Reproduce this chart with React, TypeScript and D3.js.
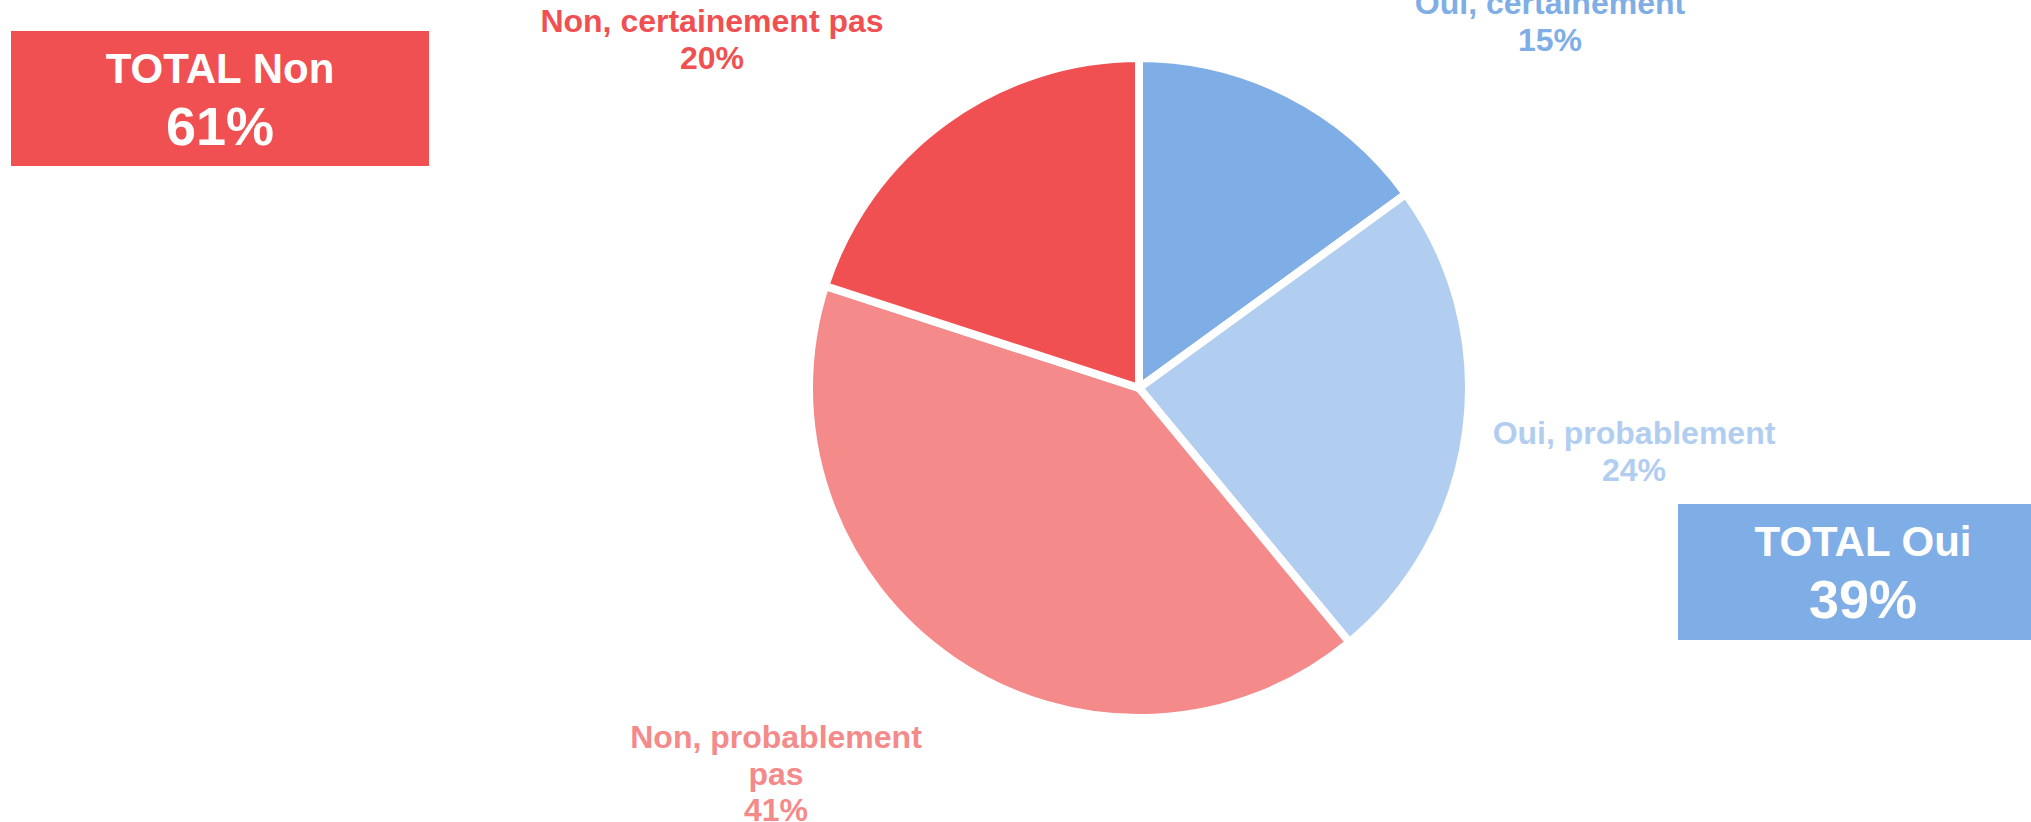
import { useMemo } from 'react'
import * as d3 from 'd3'

const categories = ['Oui, certainement', 'Oui, probablement', 'Non, probablement pas', 'Non, certainement pas']
const values = [15, 24, 41, 20]
const colors = ['#7faee6', '#b1cef1', '#f48a89', '#f05051']

// how each label is broken into lines (last line is the percent)
const labelLines = [['Oui, certainement'], ['Oui, probablement'], ['Non, probablement', 'pas'], ['Non, certainement pas']]
// label anchors (centre x, first baseline y), placed like the original "best fit"
const labelAnchors = [
  { x: 1550, y: 14 },
  { x: 1634, y: 444 },
  { x: 776, y: 748 },
  { x: 712, y: 32 },
]

const totals = [
  { title: 'TOTAL Non', value: 61, color: '#f05051', x: 11, y: 31, w: 418, h: 135, tx: 220 },
  { title: 'TOTAL Oui', value: 39, color: '#7faee6', x: 1678, y: 504, w: 353, h: 136, tx: 1863 },
]

const W = 2031
const H = 822
const cx = 1139
const cy = 388
const radius = 330
const font = '"Liberation Sans", Arial, sans-serif'

export default function App() {
  const arcs = useMemo(() => {
    const pie = d3.pie<number>().sort(null).value(d => d)
    return pie(values)
  }, [])
  const arc = d3.arc<d3.PieArcDatum<number>>().innerRadius(0).outerRadius(radius)

  return (
    <svg width={W} height={H} style={{ position: 'absolute', left: 0, top: 0, background: '#fff' }} fontFamily={font}>
      <g transform={`translate(${cx},${cy})`}>
        {arcs.map((a, i) => (
          <path key={categories[i]} d={arc(a) ?? ''} fill={colors[i]} stroke="#fff" strokeWidth={8} strokeLinejoin="miter" />
        ))}
      </g>

      {labelAnchors.map((p, i) => {
        const lines = [...labelLines[i], `${values[i]}%`]
        return (
          <text key={i} x={p.x} y={p.y} textAnchor="middle" fontWeight="bold" fontSize={32} fill={colors[i]}>
            {lines.map((l, j) => (
              <tspan key={j} x={p.x} dy={j === 0 ? 0 : 36.5}>{l}</tspan>
            ))}
          </text>
        )
      })}

      {totals.map(t => (
        <g key={t.title}>
          <rect x={t.x} y={t.y} width={t.w} height={t.h} fill={t.color} />
          <text x={t.tx} y={t.y + 52} textAnchor="middle" fill="#fff" fontWeight="bold" fontSize={42}>
            {t.title}
          </text>
          <text x={t.tx} y={t.y + 114} textAnchor="middle" fill="#fff" fontWeight="bold" fontSize={54}>
            {t.value}%
          </text>
        </g>
      ))}
    </svg>
  )
}
